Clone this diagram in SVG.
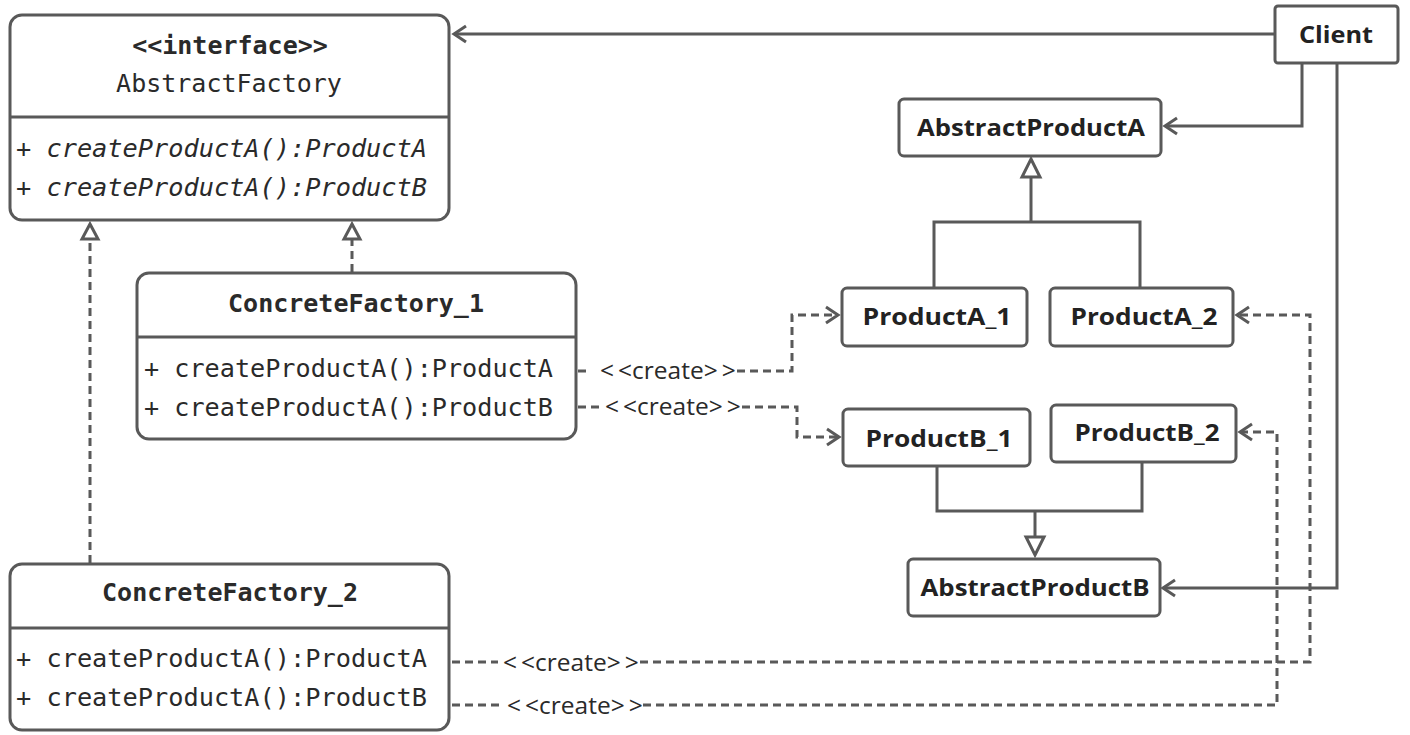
<svg xmlns="http://www.w3.org/2000/svg" width="1410" height="735" viewBox="0 0 1410 735">
  <defs>
    <style>
      .box { fill: #ffffff; stroke: #595959; stroke-width: 3; }
      .sep { stroke: #595959; stroke-width: 3; }
      .mono { font-family: "DejaVu Sans Mono", "Liberation Mono", monospace; font-size: 25px; fill: #2a2a2a; }
      .mono-b { font-family: "DejaVu Sans Mono", "Liberation Mono", monospace; font-size: 25px; font-weight: bold; fill: #2a2a2a; }
      .mono-i { font-family: "DejaVu Sans Mono", "Liberation Mono", monospace; font-size: 25px; font-style: italic; fill: #2a2a2a; }
      .name { font-family: "Open Sans", "Noto Sans", sans-serif; font-size: 24px; font-weight: bold; fill: #222222; }
      .lbl { font-family: "Open Sans", "Noto Sans", sans-serif; font-size: 24.5px; fill: #2a2a2a; }
      .solid { fill: none; stroke: #595959; stroke-width: 3; }
      .dash { fill: none; stroke: #595959; stroke-width: 3; stroke-dasharray: 8 5; }
      .head { fill: none; stroke: #595959; stroke-width: 3; }
      .tri { fill: #ffffff; stroke: #595959; stroke-width: 3; stroke-linejoin: miter; }
    </style>
  </defs>

  <!-- connectors -->
  <g id="connectors">
    <!-- Client uses AbstractFactory -->
    <path class="solid" d="M1275 34 H454"/>
    <path class="head" d="M466 26 L454 34 L466 42"/>

    <!-- Client uses AbstractProductA -->
    <path class="solid" d="M1302 63 V126 H1165"/>
    <path class="head" d="M1177 118 L1165 126 L1177 134"/>

    <!-- Client uses AbstractProductB -->
    <path class="solid" d="M1337 63 V588 H1163"/>
    <path class="head" d="M1175 580 L1163 588 L1175 596"/>

    <!-- ConcreteFactory_2 realizes AbstractFactory -->
    <path class="dash" d="M90 563 V239"/>
    <path class="tri" d="M90 224 L98 239 L82 239 Z"/>

    <!-- ConcreteFactory_1 realizes AbstractFactory -->
    <path class="dash" d="M352 272 V239"/>
    <path class="tri" d="M352 224 L360 239 L344 239 Z"/>

    <!-- ProductA_1 / ProductA_2 generalize AbstractProductA -->
    <path class="solid" d="M934 287 V222 H1140 V287"/>
    <path class="solid" d="M1031 222 V178"/>
    <path class="tri" d="M1031 159 L1040 177 L1022 177 Z"/>

    <!-- ProductB_1 / ProductB_2 generalize AbstractProductB -->
    <path class="solid" d="M937 466 V511 H1142 V462"/>
    <path class="solid" d="M1035 511 V536"/>
    <path class="tri" d="M1035 555 L1044 537 L1026 537 Z"/>

    <!-- ConcreteFactory_1 creates ProductA_1 -->
    <path class="dash" d="M578 371 H586"/>
    <path class="dash" d="M737 371 H792 V315 H838"/>
    <path class="head" d="M826 307 L838 315 L826 323"/>

    <!-- ConcreteFactory_1 creates ProductB_1 -->
    <path class="dash" d="M578 407 H600" stroke-dasharray="8 5 3 5"/>
    <path class="dash" d="M742 407 H797 V437 H839"/>
    <path class="head" d="M827 429 L839 437 L827 445"/>

    <!-- ConcreteFactory_2 creates ProductA_2 -->
    <path class="dash" d="M452 662 H498"/>
    <path class="dash" d="M640 662 H1310 V315 H1237"/>
    <path class="head" d="M1249 307 L1237 315 L1249 323"/>

    <!-- ConcreteFactory_2 creates ProductB_2 -->
    <path class="dash" d="M452 705 H500"/>
    <path class="dash" d="M643 705 H1277 V432 H1240"/>
    <path class="head" d="M1252 424 L1240 432 L1252 440"/>

    <text class="lbl" x="600" y="379">&lt;<tspan dx="4">&lt;</tspan>create&gt;<tspan dx="4">&gt;</tspan></text>
    <text class="lbl" x="605" y="415">&lt;<tspan dx="4">&lt;</tspan>create&gt;<tspan dx="4">&gt;</tspan></text>
    <text class="lbl" x="503" y="671">&lt;<tspan dx="4">&lt;</tspan>create&gt;<tspan dx="4">&gt;</tspan></text>
    <text class="lbl" x="507" y="714">&lt;<tspan dx="4">&lt;</tspan>create&gt;<tspan dx="4">&gt;</tspan></text>
  </g>

  <!-- AbstractFactory interface -->
  <g id="abstract-factory">
    <rect class="box" x="10" y="15" width="439" height="205" rx="12"/>
    <line class="sep" x1="10" y1="117" x2="449" y2="117"/>
    <text class="mono-b" x="230" y="54" text-anchor="middle">&lt;&lt;interface&gt;&gt;</text>
    <text class="mono" x="229" y="92" text-anchor="middle">AbstractFactory</text>
    <text class="mono-i" x="16" y="157" textLength="411" lengthAdjust="spacingAndGlyphs">+ createProductA():ProductA</text>
    <text class="mono-i" x="16" y="196" textLength="411" lengthAdjust="spacingAndGlyphs">+ createProductA():ProductB</text>
  </g>

  <!-- ConcreteFactory_1 -->
  <g id="concrete-factory-1">
    <rect class="box" x="137" y="273" width="439" height="166" rx="12"/>
    <line class="sep" x1="137" y1="337" x2="576" y2="337"/>
    <text class="mono-b" x="356" y="312" text-anchor="middle">ConcreteFactory_1</text>
    <text class="mono" x="144" y="377" textLength="409" lengthAdjust="spacingAndGlyphs">+ createProductA():ProductA</text>
    <text class="mono" x="144" y="416" textLength="409" lengthAdjust="spacingAndGlyphs">+ createProductA():ProductB</text>
  </g>

  <!-- ConcreteFactory_2 -->
  <g id="concrete-factory-2">
    <rect class="box" x="10" y="564" width="439" height="166" rx="12"/>
    <line class="sep" x1="10" y1="628" x2="449" y2="628"/>
    <text class="mono-b" x="230" y="601" text-anchor="middle">ConcreteFactory_2</text>
    <text class="mono" x="16" y="667" textLength="411" lengthAdjust="spacingAndGlyphs">+ createProductA():ProductA</text>
    <text class="mono" x="16" y="706" textLength="411" lengthAdjust="spacingAndGlyphs">+ createProductA():ProductB</text>
  </g>

  <!-- Client -->
  <g id="client">
    <rect class="box" x="1275" y="6" width="123" height="57" rx="3"/>
    <text class="name" x="1336" y="43" text-anchor="middle" textLength="74" lengthAdjust="spacingAndGlyphs">Client</text>
  </g>

  <!-- AbstractProductA -->
  <g id="abstract-product-a">
    <rect class="box" x="899" y="99" width="262" height="57" rx="5"/>
    <text class="name" x="1031" y="136" text-anchor="middle" textLength="228" lengthAdjust="spacingAndGlyphs">AbstractProductA</text>
  </g>

  <!-- ProductA_1 -->
  <g id="product-a-1">
    <rect class="box" x="842" y="288" width="185" height="58" rx="5"/>
    <text class="name" x="937" y="325" text-anchor="middle" textLength="149" lengthAdjust="spacingAndGlyphs">ProductA_1</text>
  </g>

  <!-- ProductA_2 -->
  <g id="product-a-2">
    <rect class="box" x="1050" y="288" width="183" height="58" rx="5"/>
    <text class="name" x="1144" y="325" text-anchor="middle" textLength="147" lengthAdjust="spacingAndGlyphs">ProductA_2</text>
  </g>

  <!-- ProductB_1 -->
  <g id="product-b-1">
    <rect class="box" x="843" y="409" width="187" height="57" rx="5"/>
    <text class="name" x="939" y="447" text-anchor="middle" textLength="147" lengthAdjust="spacingAndGlyphs">ProductB_1</text>
  </g>

  <!-- ProductB_2 -->
  <g id="product-b-2">
    <rect class="box" x="1051" y="405" width="185" height="57" rx="5"/>
    <text class="name" x="1147" y="441" text-anchor="middle" textLength="145" lengthAdjust="spacingAndGlyphs">ProductB_2</text>
  </g>

  <!-- AbstractProductB -->
  <g id="abstract-product-b">
    <rect class="box" x="908" y="559" width="252" height="57" rx="5"/>
    <text class="name" x="1035" y="596" text-anchor="middle" textLength="229" lengthAdjust="spacingAndGlyphs">AbstractProductB</text>
  </g>
</svg>
